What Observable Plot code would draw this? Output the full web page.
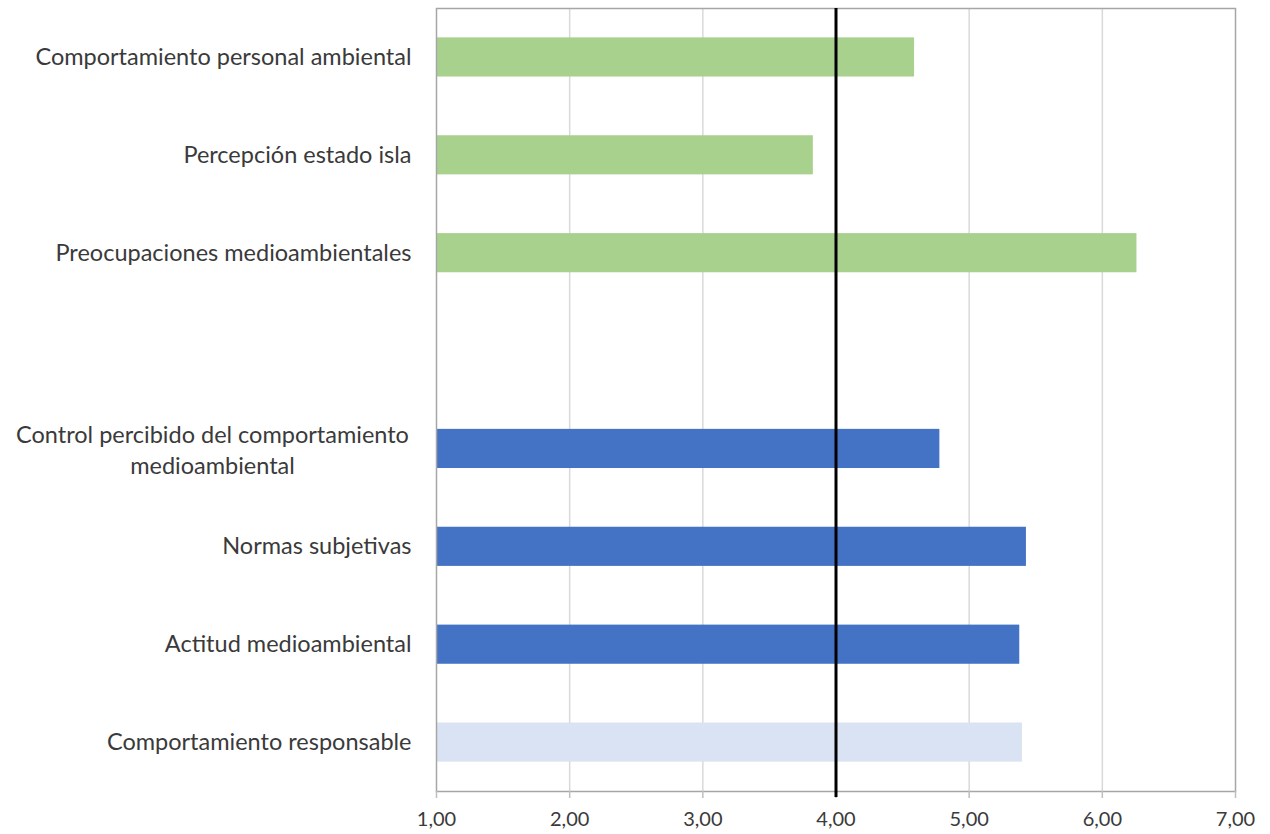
<!DOCTYPE html>
<html>
<head>
<meta charset="utf-8">
<script src="https://cdn.jsdelivr.net/npm/d3@7"></script>
<script src="https://cdn.jsdelivr.net/npm/@observablehq/plot@0.6"></script>
<style>
  html, body { margin: 0; padding: 0; background: #fff; }
  #chart { width: 1270px; height: 834px; }
</style>
</head>
<body>
<div id="chart"></div>
<script>
// Mean scores per scale (1–7), grouped in two blocks separated by an empty row
const categories = [
  "Comportamiento personal ambiental",
  "Percepción estado isla",
  "Preocupaciones medioambientales",
  "Control percibido del comportamiento\nmedioambiental",
  "Normas subjetivas",
  "Actitud medioambiental",
  "Comportamiento responsable"
];
const values = [4.59, 3.83, 6.26, 4.78, 5.43, 5.38, 5.40];
const groups = ["contexto", "contexto", "contexto", "predictor", "predictor", "predictor", "resultado"];
const gapRow = " ";
const xTicks = [1, 2, 3, 4, 5, 6, 7];
const midpoint = 4;

const groupColors = {contexto: "#A9D18E", predictor: "#4472C4", resultado: "#DAE3F3"};
const rows = categories.map((c, i) => ({category: c, value: values[i], group: groups[i]}));
const yDomain = [...categories.slice(0, 3), gapRow, ...categories.slice(3)];
const multiLine = categories[3];
const fmt = d => d.toFixed(2).replace(".", ",");
const font = "Lato, 'Open Sans', sans-serif";
const labelSize = 23.5;
const textColor = "#3a3a3a";

const chart = Plot.plot({
  width: 1270,
  height: 834,
  marginLeft: 436,
  marginRight: 35,
  marginTop: 8,
  marginBottom: 43,
  style: {fontFamily: font, fontSize: "21px", color: textColor, background: "#fff"},
  x: {domain: [1, 7], ticks: xTicks},
  y: {domain: yDomain, paddingInner: 0.6, paddingOuter: 0.3, round: false},
  marks: [
    Plot.ruleX(xTicks.filter(t => t > 1 && t < 7), {stroke: "#d9d9d9", strokeWidth: 1.5}),
    Plot.barX(rows, {
      x1: 1,
      x2: "value",
      y: "category",
      fill: d => groupColors[d.group]
    }),
    Plot.frame({stroke: "#a6a6a6", strokeWidth: 1.5}),
    Plot.axisX({
      ticks: xTicks,
      tickFormat: fmt,
      tickSize: 7,
      tickPadding: 13,
      stroke: "#bfbfbf",
      strokeWidth: 1.5,
      fill: textColor,
      fontSize: 20,
      label: null
    }),
    Plot.axisY({
      tickSize: 0,
      tickPadding: 25,
      tickFormat: d => (d === multiLine || d === gapRow ? "" : d),
      fill: textColor,
      fontSize: labelSize,
      label: null
    }),
    Plot.text([multiLine], {
      y: d => d,
      text: d => d,
      frameAnchor: "left",
      textAnchor: "middle",
      dx: -224,
      lineHeight: 1.3,
      fill: textColor,
      fontSize: labelSize
    }),
    Plot.ruleX([midpoint], {stroke: "#000", strokeWidth: 3, insetBottom: -6})
  ]
});

document.getElementById("chart").appendChild(chart);
</script>
</body>
</html>
